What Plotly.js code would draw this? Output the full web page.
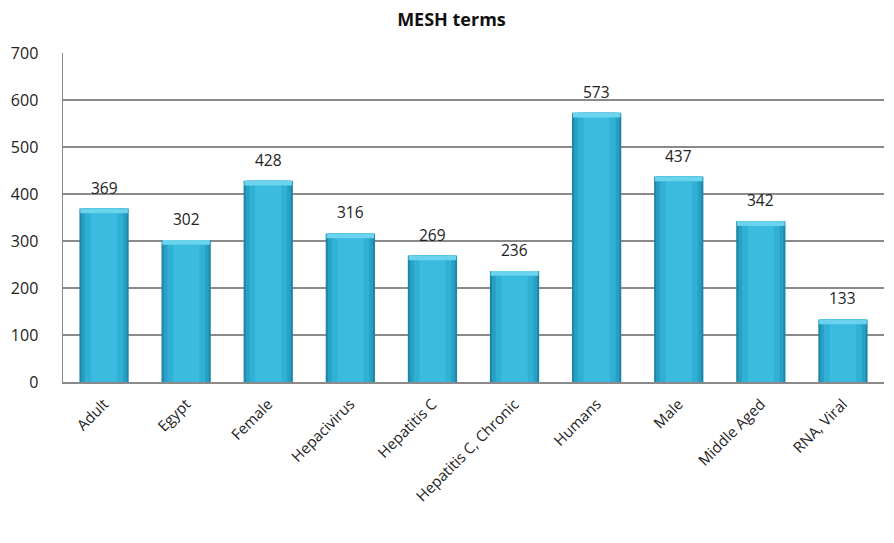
<!DOCTYPE html>
<html><head><meta charset="utf-8">
<script src="https://cdn.plot.ly/plotly-3.0.1.min.js"></script>
<style>html,body{margin:0;padding:0;background:#fff}</style>
</head><body><div id="chart" style="width:894px;height:543px"></div>
<script>
var categories = ["Adult","Egypt","Female","Hepacivirus","Hepatitis C","Hepatitis C, Chronic","Humans","Male","Middle Aged","RNA, Viral"];
var counts = [369,302,428,316,269,236,573,437,342,133];
var yTicks = [0,100,200,300,400,500,600,700];

var font = "Open Sans, sans-serif";
// layered bars for a cylindrical shading effect
var layers = [
  {w:0.6, c:"#1d86a4"},
  {w:0.55, c:"#27a0c3"},
  {w:0.46, c:"#31b0d6"},
  {w:0.32, c:"#3abbdf"}
];
var traces = layers.map(function(L){
  return {type:"bar", x:categories, y:counts, width:L.w,
    marker:{color:L.c, line:{width:0}}, hoverinfo:"skip", showlegend:false};
});
// light bevel at the top of each bar
traces.push({type:"bar", x:categories, y:counts.map(function(){return 10;}),
  base:counts.map(function(v){return v-10;}), width:0.58,
  marker:{color:"#6ad4ee", line:{width:0}}, hoverinfo:"skip", showlegend:false});

var annotations = categories.map(function(c,i){
  return {x:c, y:counts[i], xref:"x", yref:"y", text:String(counts[i]),
    showarrow:false, yanchor:"bottom", yshift:8,
    font:{family:font, size:15.5, color:"#222"}};
});

var layout = {
  width:894, height:543,
  margin:{l:63, r:10, t:53, b:161},
  paper_bgcolor:"#fff", plot_bgcolor:"#fff",
  barmode:"overlay",
  annotations:annotations,
  title:{text:"<b>MESH terms</b>", x:0.505, xanchor:"center", y:0.963, yanchor:"middle",
    font:{family:font, size:18, color:"#111"}},
  xaxis:{type:"category", tickangle:-45, showgrid:false,
    showline:true, linecolor:"#8a8a8a", linewidth:1.5,
    ticks:"", ticklabelstandoff:6, tickfont:{family:font, size:15, color:"#222"}, fixedrange:true},
  yaxis:{range:[0,700], tickvals:yTicks, ticktext:yTicks.map(String),
    showgrid:true, gridcolor:"#8a8a8a", gridwidth:1.3,
    showline:true, linecolor:"#8a8a8a", linewidth:1.5, zeroline:false,
    ticks:"", ticklabelstandoff:20,
    tickfont:{family:font, size:16, color:"#222"}, fixedrange:true}
};
Plotly.newPlot("chart", traces, layout, {displayModeBar:false, staticPlot:true});
</script></body></html>
